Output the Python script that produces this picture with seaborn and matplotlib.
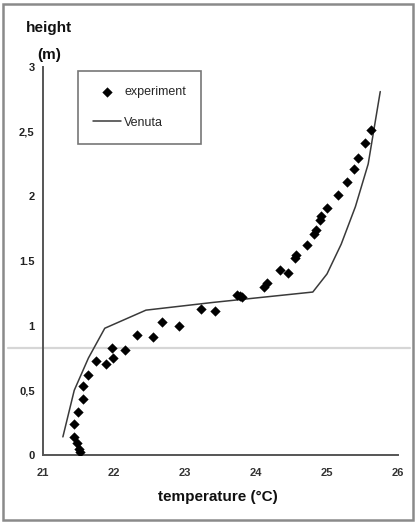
import matplotlib
matplotlib.use("Agg")
import matplotlib.pyplot as plt
from matplotlib.lines import Line2D
from matplotlib.patches import Rectangle
import seaborn as sns
import pandas as pd

# Measured air temperature profile
exp_temp = [21.52, 21.50, 21.48, 21.44, 21.44, 21.49, 21.57, 21.57, 21.63, 21.75,
            21.89, 21.99, 21.97, 22.16, 22.33, 22.55, 22.67, 22.91, 23.22, 23.42,
            23.73, 23.77, 23.80, 24.11, 24.15, 24.34, 24.45, 24.55, 24.57, 24.72,
            24.82, 24.84, 24.90, 24.92, 25.00, 25.15, 25.28, 25.38, 25.44, 25.53,
            25.62]
exp_height = [0.02, 0.05, 0.09, 0.14, 0.24, 0.33, 0.43, 0.53, 0.62, 0.73,
              0.70, 0.75, 0.83, 0.81, 0.93, 0.91, 1.03, 1.00, 1.13, 1.11,
              1.24, 1.23, 1.22, 1.30, 1.33, 1.43, 1.41, 1.52, 1.55, 1.62,
              1.71, 1.74, 1.82, 1.85, 1.91, 2.01, 2.11, 2.21, 2.30, 2.41,
              2.51]

# Venuta model profile
venuta_temp = [21.28, 21.44, 21.64, 21.87, 22.45, 23.40, 24.80, 25.00, 25.20, 25.40, 25.58, 25.75]
venuta_height = [0.14, 0.50, 0.75, 0.98, 1.12, 1.18, 1.26, 1.40, 1.63, 1.92, 2.25, 2.81]

x_ticks = [21, 22, 23, 24, 25, 26]
y_ticks = [0, 0.5, 1, 1.5, 2, 2.5, 3]
y_tick_labels = ["0", "0,5", "1", "1.5", "2", "2,5", "3"]

sns.set_theme(style="white")
plt.rcParams["font.family"] = ["Liberation Sans", "DejaVu Sans"]

exp_df = pd.DataFrame({"temperature": exp_temp, "height": exp_height})
ven_df = pd.DataFrame({"temperature": venuta_temp, "height": venuta_height})

fig = plt.figure(figsize=(4.16, 5.23), dpi=100)
ax = fig.add_axes([43 / 416, 68 / 523, 355 / 416, 388 / 523])
ax.set_facecolor("none")

sns.lineplot(data=ven_df, x="temperature", y="height", sort=False, estimator=None,
             color="#3a3a3a", linewidth=1.1, ax=ax, label="Venuta")
sns.scatterplot(data=exp_df, x="temperature", y="height", marker="D", s=24,
                color="black", edgecolor="black", linewidth=0.3, ax=ax,
                label="experiment", zorder=3)

ax.set_xlim(21, 26)
ax.set_ylim(0, 3)
ax.set_xticks(x_ticks)
ax.set_xticklabels([str(t) for t in x_ticks])
ax.set_yticks(y_ticks)
ax.set_yticklabels(y_tick_labels)
ax.set_xlabel("")
ax.set_ylabel("")

for side in ("top", "right"):
    ax.spines[side].set_visible(False)
for side in ("left", "bottom"):
    ax.spines[side].set_color("#555555")
    ax.spines[side].set_linewidth(1.4)

ax.tick_params(axis="x", direction="inout", length=6, width=1, color="#555555",
               pad=6, labelsize=8, labelcolor="#333333")
ax.tick_params(axis="y", direction="out", length=3, width=1, color="#888888",
               pad=3, labelsize=8, labelcolor="#222222")
for lab in ax.get_xticklabels() + ax.get_yticklabels():
    lab.set_fontweight("bold")

handles, labels = ax.get_legend_handles_labels()
order = [labels.index("experiment"), labels.index("Venuta")]
leg = ax.legend([handles[i] for i in order], [labels[i] for i in order],
                loc="upper left", bbox_to_anchor=(0.099, 0.99), frameon=True,
                fancybox=False, edgecolor="#555555", fontsize=9,
                handlelength=2.2, handletextpad=0.3, labelspacing=1.5,
                borderpad=1.2, borderaxespad=0)
leg.get_frame().set_linewidth(1.2)

fig.text(49 / 416, 1 - 28 / 523, "height", ha="center", va="center",
         fontsize=11, fontweight="bold", color="#111111")
fig.text(49 / 416, 1 - 55 / 523, "(m)", ha="center", va="center",
         fontsize=11, fontweight="bold", color="#111111")
fig.text(218 / 416, 1 - 497 / 523, "temperature (°C)", ha="center", va="center",
         fontsize=11, fontweight="bold", color="#111111")

# Page frame and faint rule across the page
fig.add_artist(Rectangle((3 / 416, 1 - 520 / 523), 410 / 416, 516 / 523,
                         transform=fig.transFigure, fill=False,
                         edgecolor="#8a8a8a", linewidth=1.8))
fig.add_artist(Line2D([8 / 416, 410 / 416], [1 - 348 / 523, 1 - 348 / 523],
                      transform=fig.transFigure, color="#d6d6d6", linewidth=1.6,
                      zorder=0))

fig.savefig("out.png", dpi=100)
